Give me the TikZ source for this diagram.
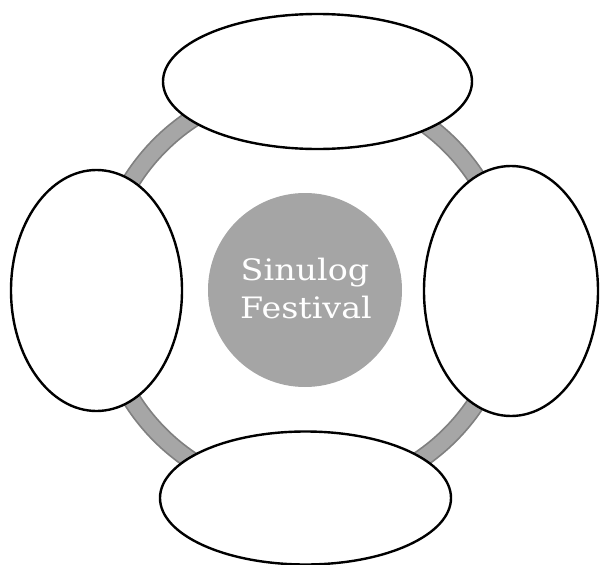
\documentclass[tikz,border=0pt]{standalone}
\usepackage{fontspec}
\newfontfamily\titlefont[FakeStretch=1.13]{DejaVu Serif}
\usetikzlibrary{shapes.geometric}
\definecolor{ringedge}{HTML}{808080}
\definecolor{ringfill}{HTML}{A6A6A6}
\definecolor{hubfill}{HTML}{A5A5A5}
\tikzset{
  blob/.style={ellipse, draw=black, line width=2.4pt, fill=white, inner sep=0pt},
  hub/.style={circle, fill=hubfill, draw=none, minimum size=194pt, inner sep=0pt},
  hubtext/.style={text=white, anchor=base, inner sep=0pt, font=\titlefont\fontsize{29.5}{36}\selectfont}
}
\begin{document}
\begin{tikzpicture}[x=1pt,y=-1pt]
\useasboundingbox (0,0) rectangle (600,565);
\coordinate (ctr) at (305,290);
\draw[ringedge, line width=19pt] (ctr) circle[radius=205];
\draw[ringfill, line width=15.5pt] (ctr) circle[radius=205];
\node[hub] (hubc) at (ctr) {};
\node[hubtext] (t1) at (305,280) {Sinulog};
\node[hubtext] (t2) at (306,318) {Festival};
\node[blob, minimum width=309pt, minimum height=135pt] (top) at (317.5,81.5) {};
\node[blob, minimum width=171pt, minimum height=241pt] (left) at (96.5,290.5) {};
\node[blob, minimum width=174pt, minimum height=250pt] (right) at (511,291) {};
\node[blob, minimum width=291pt, minimum height=133pt] (bottom) at (305.5,498) {};
\end{tikzpicture}
\end{document}
